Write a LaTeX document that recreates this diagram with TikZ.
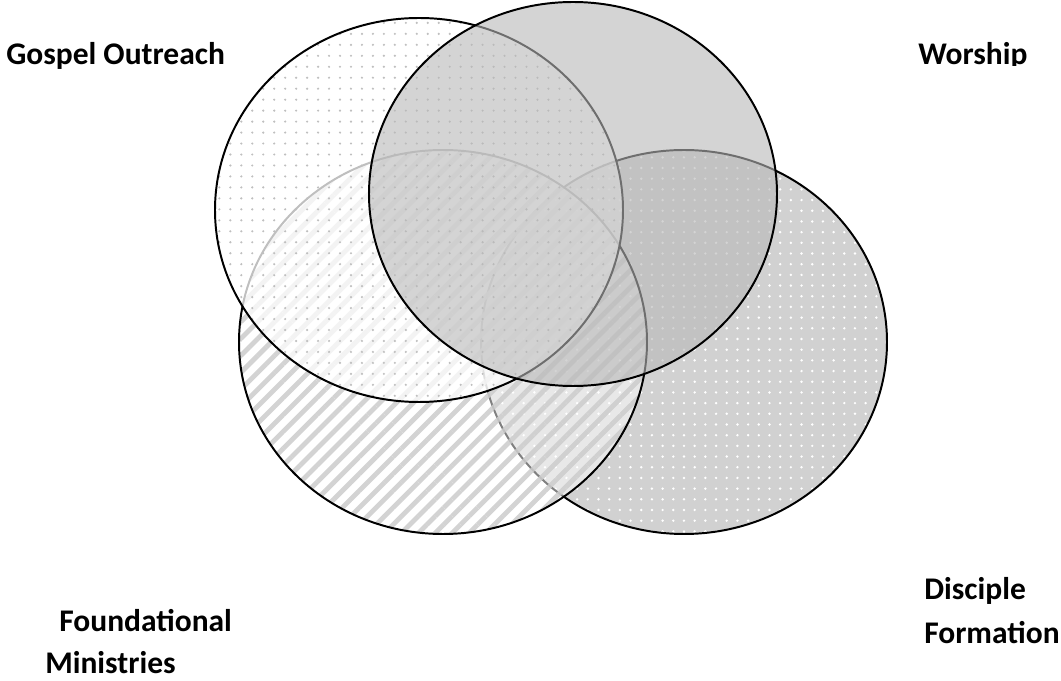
\documentclass[tikz,border=0pt]{standalone}
\usepackage{fontspec}
\setmainfont{Carlito}
\usepackage{tikz}
\usetikzlibrary{patterns.meta}
\definecolor{worship-grey}{gray}{0.72}
\definecolor{disciple-grey}{gray}{0.82}
\tikzstyle{outline}=[line width=1.4pt]
\tikzstyle{venntext}=[font=\bfseries\fontsize{22.4}{29.2}\selectfont, inner sep=0pt, anchor=base west, align=left]
\tikzstyle{grey-dots}=[pattern={Dots[distance=7.8pt, radius=.85pt]}, pattern color=black!25]
\tikzstyle{white-dots}=[pattern={Dots[distance=7.6pt, radius=.95pt]}, pattern color=white]
\tikzstyle{stripes}=[pattern={Lines[angle=45, distance=8.5pt, line width=3.4pt]}, pattern color=black!20]

\begin{document}
\begin{tikzpicture}[x=0.025cm, y=-0.025cm]
	\useasboundingbox (0,0) rectangle (1061,681);
	% Disciple Formation
	\fill[disciple-grey] (684,342) ellipse (203 and 192);
	\fill[white-dots] (684,342) ellipse (203 and 192);
	\draw[outline] (684,342) ellipse (203 and 192);
	% Foundational Ministries
	\fill[white, opacity=.5] (443,342) ellipse (204 and 192);
	\fill[stripes, opacity=.85] (443,342) ellipse (204 and 192);
	\draw[outline] (443,342) ellipse (204 and 192);
	% Gospel Outreach
	\fill[white, opacity=.75] (419,210) ellipse (204 and 192);
	\fill[grey-dots] (419,210) ellipse (204 and 192);
	\draw[outline] (419,210) ellipse (204 and 192);
	% Worship
	\filldraw[outline, fill=worship-grey, fill opacity=.6] (573,194) ellipse (204 and 192);
	\node[venntext] (gospel) at (6,65) {Gospel Outreach};
	\begin{scope}
		\clip (850,0) rectangle (1061,66);
		\node[venntext] (worship) at (918,65) {Worship};
	\end{scope}
	\node[venntext] (found) at (45,673) {\hspace*{10pt}Foundational\\Ministries};
	\node[venntext, font=\bfseries\fontsize{22.4}{31.3}\selectfont] (disc) at (924,644) {Disciple\\Formation};
\end{tikzpicture}
\end{document}
